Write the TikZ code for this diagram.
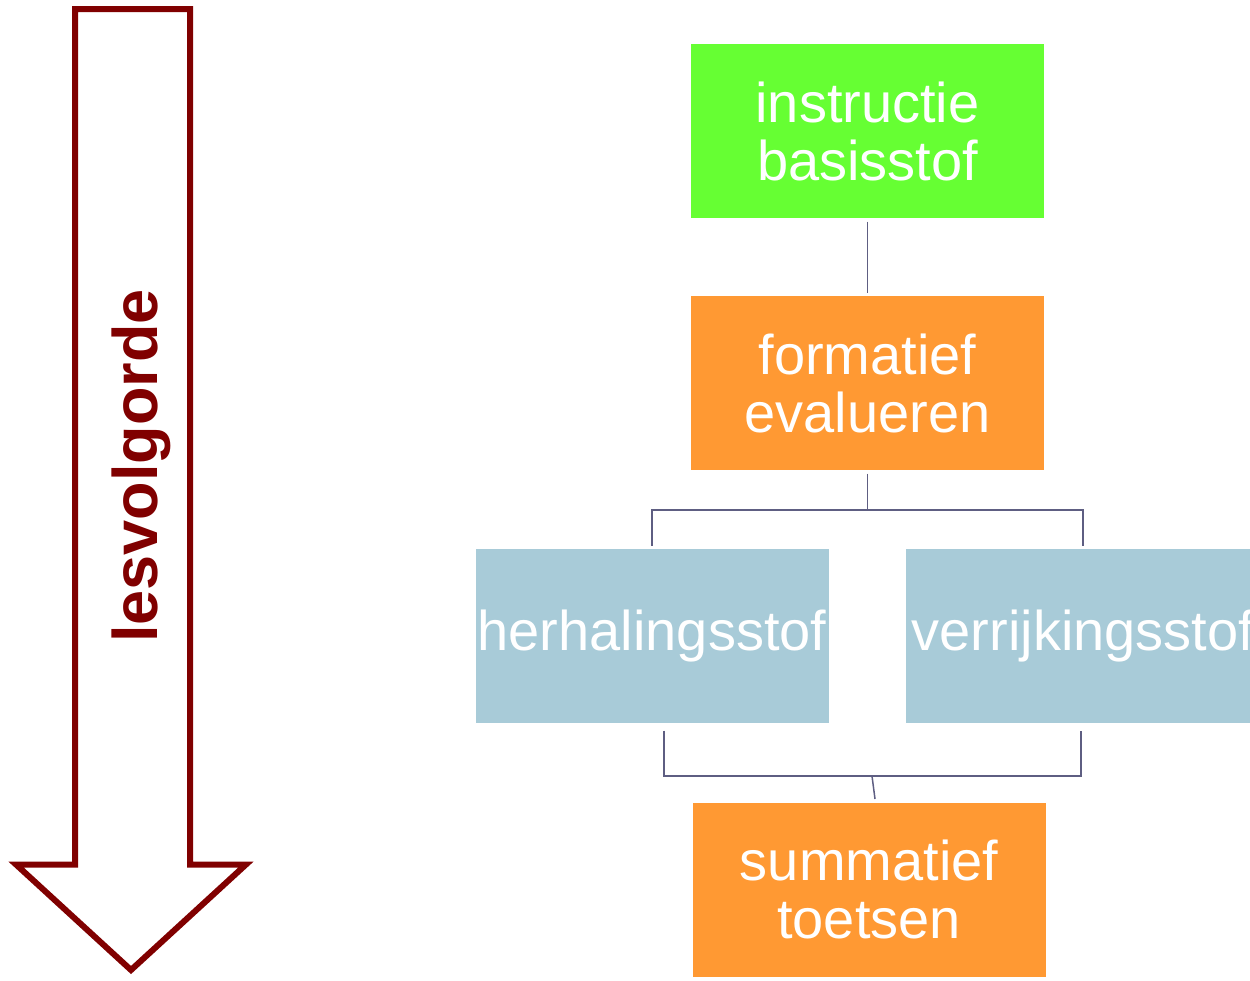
\documentclass[tikz,border=0pt]{standalone}
\usepackage{fontspec}
\setmainfont{Liberation Sans}
\definecolor{boxgreen}{HTML}{66FF33}
\definecolor{boxorange}{HTML}{FF9933}
\definecolor{boxblue}{HTML}{A8CBD8}
\definecolor{connclr}{HTML}{5E5E82}
\definecolor{arrowred}{HTML}{800000}
\begin{document}
\begin{tikzpicture}[x=1pt,y=-1pt,
  box/.style={draw=none, minimum width=353pt, minimum height=174pt, inner sep=0pt, outer sep=3.5pt,
    text=white, align=center, font=\fontsize{56}{58}\selectfont},
  conn/.style={draw=connclr, line width=1.5pt},
  bigarrow/.style={draw=arrowred, line width=6pt, miter limit=10, fill=white}]
\useasboundingbox (0,0) rectangle (1250,980);
% left arrow
\draw[bigarrow] (75,9) -- (190,9) -- (190,864.5) -- (246,864.5) -- (131,970) -- (16,864.5) -- (75,864.5) -- cycle;
\node[rotate=90, anchor=base, text=arrowred, font=\fontsize{63}{63}\selectfont\bfseries, inner sep=0pt] (lbl) at (157,466) {lesvolgorde};
% boxes
\node[box, fill=boxgreen] (b1) at (867.5,131) {instructie\\basisstof};
\node[box, fill=boxorange] (b2) at (867.5,383) {formatief\\evalueren};
\node[box, fill=boxblue] (b3) at (652,636) {herhalingsstof};
\node[box, fill=boxblue, minimum width=354pt] (b4) at (1083,636) {verrijkingsstof};
\node[box, fill=boxorange] (b5) at (869,889.5) {summatief\\toetsen};
% connectors
\coordinate (j1) at (867.5,510);
\coordinate (j2) at (872,776);
\draw[conn] (b1) -- (b2);
\draw[conn] (b2.south) -- (j1);
\draw[conn] (b3.north) |- (j1) -| (b4.north);
\draw[conn] ([xshift=12pt,yshift=-4pt]b3.south) |- (j2) -| ([xshift=-2pt,yshift=-4pt]b4.south);
\draw[conn] (j2) -- ([xshift=6pt]b5.north);
\end{tikzpicture}
\end{document}
